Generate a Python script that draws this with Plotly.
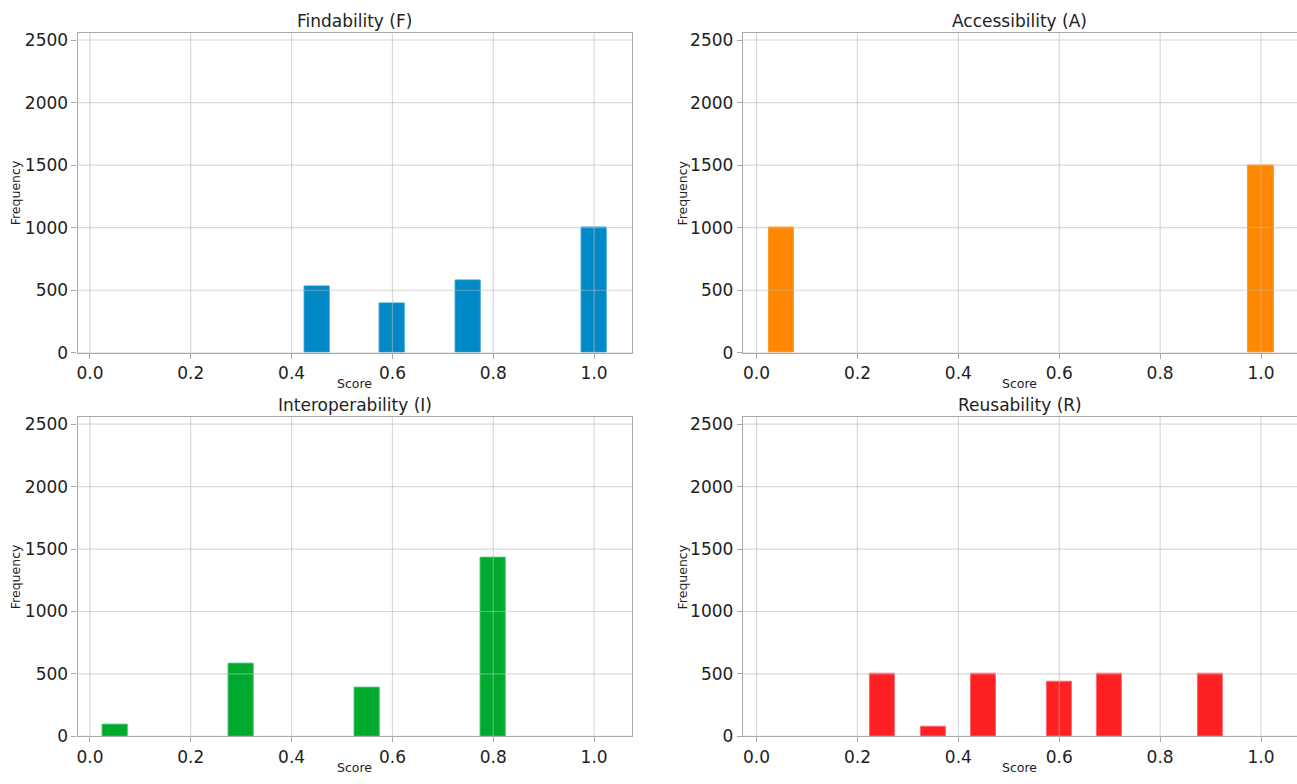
import plotly.graph_objects as go

# ---- data (bin centers, counts), bin width 0.05 ----
f_scores = [0.45, 0.60, 0.75, 1.00]
f_counts = [530, 395, 578, 1000]

a_scores = [0.05, 1.00]
a_counts = [1000, 1500]

i_scores = [0.05, 0.30, 0.55, 0.80]
i_counts = [97, 585, 393, 1430]

r_scores = [0.25, 0.35, 0.45, 0.60, 0.70, 0.90]
r_counts = [500, 75, 500, 435, 500, 500]

titles = ["Findability (F)", "Accessibility (A)", "Interoperability (I)", "Reusability (R)"]
colors = ["#0089c6", "#ff8800", "#00aa2e", "#ff2024"]
edge_colors = ["#1896cc", "#ff9a2a", "#2cb850", "#ff6a6a"]
x_ticks = [0.0, 0.2, 0.4, 0.6, 0.8, 1.0]
y_ticks = [0, 500, 1000, 1500, 2000, 2500]
bin_width = 0.05

W, H = 1297, 784
FONT = "DejaVu Sans"
TXT = "#222222"

# panel pixel boxes (left, right, top, bottom)
boxes = [
    (76.7, 631.7, 30.0, 355.7),
    (742.5, 1297.0, 30.0, 355.7),
    (76.7, 631.7, 420.7, 745.7),
    (742.5, 1297.0, 420.7, 745.7),
]
x_ranges = [[-0.0244, 1.0756], [-0.027, 1.0713], [-0.0244, 1.0756], [-0.027, 1.0713]]
y_range = [0, 2560]

series = [(f_scores, f_counts), (a_scores, a_counts), (i_scores, i_counts), (r_scores, r_counts)]

fig = go.Figure()
shapes = []
annotations = []

for k, ((xs, ys), (l, r, t, b)) in enumerate(zip(series, boxes)):
    n = "" if k == 0 else str(k + 1)
    xa, ya = "x" + n, "y" + n
    fig.add_trace(go.Bar(
        x=xs, y=ys, width=bin_width,
        marker=dict(color=colors[k], line=dict(color=edge_colors[k], width=1)),
        xaxis=xa, yaxis=ya, showlegend=False,
    ))
    right_col = k in (1, 3)
    fig.update_layout(**{
        "xaxis" + n: dict(
            domain=[l / W, r / W], range=x_ranges[k], anchor=ya,
            tickvals=x_ticks, tickformat=".1f", showgrid=False, zeroline=False,
            showline=True, mirror=True, linecolor="#a8a8a8", linewidth=1.3,
            ticks="outside", ticklen=5, tickcolor="#a8a8a8",
            tickfont=dict(family=FONT, size=17, color=TXT),
        ),
        "yaxis" + n: dict(
            domain=[1 - b / H, 1 - t / H], range=y_range, anchor=xa,
            tickvals=y_ticks, showgrid=False, zeroline=False,
            showline=True, mirror=(not right_col), linecolor="#a8a8a8", linewidth=1.3,
            ticks="outside", ticklen=5, tickcolor="#a8a8a8",
            tickfont=dict(family=FONT, size=17, color=TXT),
        ),
    })
    # gridlines drawn above bars (like matplotlib grid)
    for xv in x_ticks:
        shapes.append(dict(type="line", xref=xa, yref=ya + " domain", x0=xv, x1=xv, y0=0, y1=1,
                           line=dict(color="rgba(185,185,185,0.55)", width=1.2), layer="above"))
    for yv in y_ticks:
        shapes.append(dict(type="line", xref=xa + " domain", yref=ya, x0=0, x1=1, y0=yv, y1=yv,
                           line=dict(color="rgba(185,185,185,0.55)", width=1.2), layer="above"))
    annotations.append(dict(text=titles[k], xref=xa + " domain", yref=ya + " domain", x=0.5, y=1,
                            xanchor="center", yanchor="bottom", yshift=0, showarrow=False,
                            font=dict(family=FONT, size=17, color=TXT)))
    annotations.append(dict(text="Score", xref=xa + " domain", yref=ya + " domain", x=0.5, y=0,
                            xanchor="center", yanchor="middle", yshift=-31, showarrow=False,
                            font=dict(family=FONT, size=12.5, color=TXT)))
    annotations.append(dict(text="Frequency", xref=xa + " domain", yref=ya + " domain", x=0, y=0.5,
                            xanchor="center", yanchor="middle", xshift=(-60 if right_col else -62),
                            textangle=-90, showarrow=False,
                            font=dict(family=FONT, size=12.5, color=TXT)))

fig.update_layout(
    width=W, height=H, margin=dict(l=0, r=0, t=0, b=0),
    paper_bgcolor="white", plot_bgcolor="white",
    shapes=shapes, annotations=annotations, bargap=0,
)

post = (
    "document.documentElement.style.margin='0px';"
    "document.documentElement.style.overflow='hidden';"
    "document.body.style.margin='0px';"
    "document.body.style.overflow='hidden';"
    "var gd=document.getElementById('{plot_id}');"
    "Plotly.relayout(gd,{width:window.innerWidth,height:window.innerHeight});"
)
fig.write_html("out.html", config={"displayModeBar": False, "responsive": False}, post_script=post)
